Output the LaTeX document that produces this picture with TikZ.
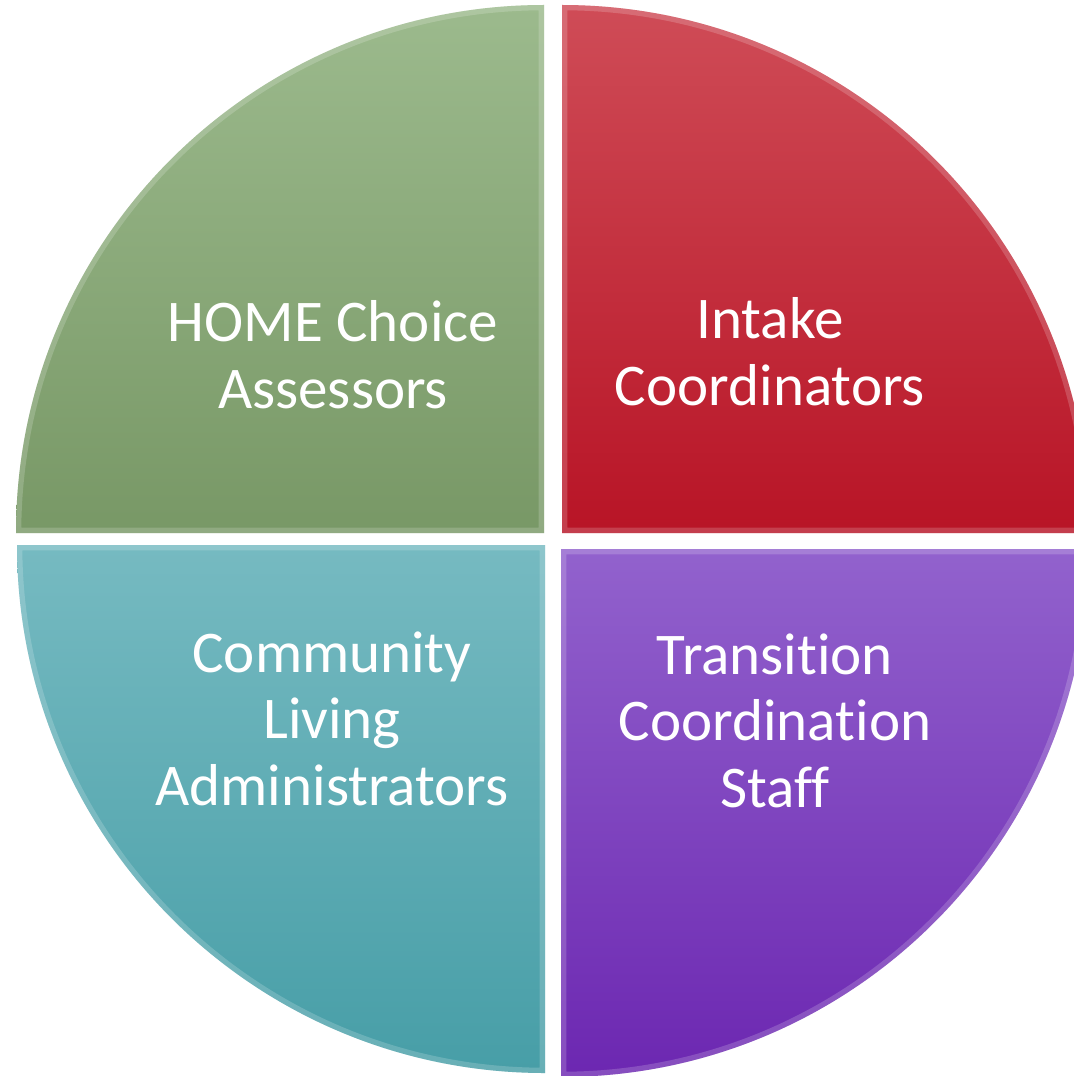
\documentclass[tikz,border=0pt]{standalone}
\usepackage{fontspec}
\setmainfont[Ligatures=NoCommon]{Carlito}
\definecolor{greentop}{HTML}{9CBA8D}
\definecolor{greenbot}{HTML}{789866}
\definecolor{redtop}{HTML}{CF4C57}
\definecolor{redbot}{HTML}{B81426}
\definecolor{tealtop}{HTML}{76BAC1}
\definecolor{tealbot}{HTML}{479EA7}
\definecolor{purptop}{HTML}{9262CD}
\definecolor{purpbot}{HTML}{6C27B1}
\tikzset{
  slice/.style 2 args={top color=#1, bottom color=#2, draw=none},
  rim/.style={draw=white, line width=3, opacity=0.18},
  lbl/.style={text=white, align=center, anchor=base,
    font=\fontsize{16.8}{18.8}\selectfont}
}
\begin{document}
\begin{tikzpicture}[x=0.01cm, y=0.01cm]
      \clip (0,0) rectangle (1074,-1076);
      \fill[white] (0,0) rectangle (1074,-1076);
      % the four slices of the circle, pulled apart a little
      \path[slice={greentop}{greenbot}]
        (544,-533) -- ++(-528,0) arc[start angle=180, end angle=90, radius=528] -- cycle;
      \path[slice={redtop}{redbot}]
        (562,-533) -- ++(0,528) arc[start angle=90, end angle=0, radius=528] -- cycle;
      \path[slice={tealtop}{tealbot}]
        (545,-545) -- ++(0,-528) arc[start angle=270, end angle=180, radius=528] -- cycle;
      \path[slice={purptop}{purpbot}]
        (561,-549) -- ++(528,0) arc[start angle=0, end angle=-90, radius=528] -- cycle;
      % soft bevel along the edges
      \begin{scope}
        \clip (544,-533) -- ++(-528,0) arc[start angle=180, end angle=90, radius=528] -- cycle;
        \draw[rim] (544,-533) -- ++(-528,0) arc[start angle=180, end angle=90, radius=528] -- cycle;
      \end{scope}
      \begin{scope}
        \clip (562,-533) -- ++(0,528) arc[start angle=90, end angle=0, radius=528] -- cycle;
        \draw[rim] (562,-533) -- ++(0,528) arc[start angle=90, end angle=0, radius=528] -- cycle;
      \end{scope}
      \begin{scope}
        \clip (545,-545) -- ++(0,-528) arc[start angle=270, end angle=180, radius=528] -- cycle;
        \draw[rim] (545,-545) -- ++(0,-528) arc[start angle=270, end angle=180, radius=528] -- cycle;
      \end{scope}
      \begin{scope}
        \clip (561,-549) -- ++(528,0) arc[start angle=0, end angle=-90, radius=528] -- cycle;
        \draw[rim] (561,-549) -- ++(528,0) arc[start angle=0, end angle=-90, radius=528] -- cycle;
      \end{scope}
      % labels
      \node[lbl] (home) at (333,-408) {HOME Choice\\Assessors};
      \node[lbl] (intake) at (770,-405) {Intake\\Coordinators};
      \node[lbl] (community) at (332,-805) {Community\\Living\\Administrators};
      \node[lbl] (transition) at (775,-807) {Transition\\Coordination\\Staff};
    \end{tikzpicture}
\end{document}
